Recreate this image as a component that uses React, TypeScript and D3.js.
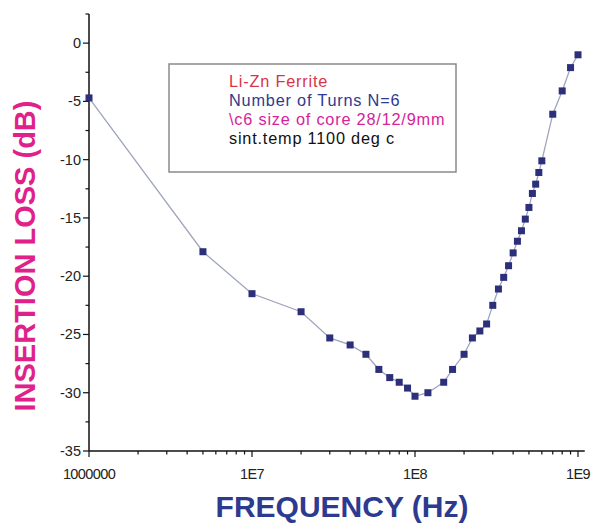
import React from "react";
import * as d3 from "d3";

const freqs = [1e6, 5e6, 1e7, 2e7, 3e7, 4e7, 5e7, 6e7, 7e7, 8e7, 9e7, 1e8, 1.2e8, 1.5e8, 1.7e8, 2e8, 2.25e8, 2.5e8, 2.75e8, 3e8, 3.25e8, 3.5e8, 3.75e8, 4e8, 4.25e8, 4.5e8, 4.75e8, 5e8, 5.25e8, 5.5e8, 5.75e8, 6e8, 7e8, 8e8, 9e8, 1e9];
const loss = [-4.7, -17.9, -21.5, -23.05, -25.3, -25.9, -26.7, -28.0, -28.7, -29.1, -29.6, -30.3, -30.0, -29.1, -28.0, -26.7, -25.3, -24.7, -24.1, -22.5, -21.1, -20.1, -19.1, -18.0, -17.0, -16.1, -15.1, -14.1, -12.9, -12.1, -11.1, -10.1, -6.1, -4.1, -2.1, -1.0];

const yTicks = [0, -5, -10, -15, -20, -25, -30, -35];
const xTicks = [1e6, 1e7, 1e8, 1e9];
const xTickLabels = ["1000000", "1E7", "1E8", "1E9"];
const legendLines = ["Li-Zn Ferrite", "Number of Turns N=6", "\\c6 size of core 28/12/9mm", "sint.temp 1100 deg c"];
const legendColors = ["#d8344a", "#2e3a8f", "#d6239a", "#111111"];

export default function App() {
  const W = 592, H = 527;
  const x = d3.scaleLog().domain([1e6, 1e9]).range([89, 578]);
  const y = d3.scaleLinear().domain([-35, 2.5]).range([451, 14]);
  const data = freqs.map((f, i) => ({ f, v: loss[i] }));
  const line = d3.line<{ f: number; v: number }>().x(d => x(d.f)).y(d => y(d.v));

  const minorX: number[] = [];
  for (let e = 6; e < 9; e++) for (let m = 2; m <= 9; m++) minorX.push(m * Math.pow(10, e));
  const minorY = d3.range(-32.5, 2.6, 5);
  const font = "'Liberation Sans', Arial, sans-serif";
  const x0 = x.range()[0], y0 = y.range()[0];

  return (
    <svg width={W} height={H} style={{ position: "absolute", left: 0, top: 0, background: "#fff" }} fontFamily={font}>
      {/* legend box */}
      <rect x={169} y={64} width={287} height={108} fill="#fff" stroke="#8a8a8a" strokeWidth={1.5} />
      {legendLines.map((t, i) => (
        <text key={i} x={229} y={87 + i * 19} fontSize={16.3} fill={legendColors[i]} letterSpacing={0.8}>{t}</text>
      ))}
      {/* axes */}
      <line x1={x0} x2={x0} y1={y0} y2={y.range()[1]} stroke="#111" strokeWidth={1.5} />
      <line x1={x0} x2={x(1.1e9)} y1={y0} y2={y0} stroke="#111" strokeWidth={1.5} />
      {yTicks.map(t => (
        <g key={"yt" + t}>
          <line x1={x0 - 6} x2={x0} y1={y(t)} y2={y(t)} stroke="#111" strokeWidth={1.2} />
          <text x={x0 - 8} y={y(t) + 5} fontSize={14.5} textAnchor="end" fill="#222">{t}</text>
        </g>
      ))}
      {minorY.map(t => (
        <line key={"ym" + t} x1={x0 - 3.5} x2={x0} y1={y(t)} y2={y(t)} stroke="#111" strokeWidth={1.2} />
      ))}
      {xTicks.map((t, i) => (
        <g key={"xt" + t}>
          <line x1={x(t)} x2={x(t)} y1={y0} y2={y0 + 6} stroke="#111" strokeWidth={1.2} />
          <text x={x(t)} y={y0 + 28} fontSize={14.5} textAnchor="middle" fill="#222" letterSpacing={-0.6}>{xTickLabels[i]}</text>
        </g>
      ))}
      {minorX.map(t => (
        <line key={"xm" + t} x1={x(t)} x2={x(t)} y1={y0} y2={y0 + 3.5} stroke="#111" strokeWidth={1.2} />
      ))}
      {/* series */}
      <path d={line(data) || ""} fill="none" stroke="#a0a4bc" strokeWidth={1.3} />
      {data.map((d, i) => (
        <rect key={i} x={x(d.f) - 3.5} y={y(d.v) - 3.5} width={7} height={7} fill="#2c2f7a" />
      ))}
      {/* axis titles */}
      <text x={342} y={517} fontSize={30} fontWeight="bold" textAnchor="middle" fill="#2e3a8f">FREQUENCY (Hz)</text>
      <text transform={`translate(35,${256}) rotate(-90)`} fontSize={29} fontWeight="bold" textAnchor="middle" fill="#e0218a">INSERTION LOSS (dB)</text>
    </svg>
  );
}
